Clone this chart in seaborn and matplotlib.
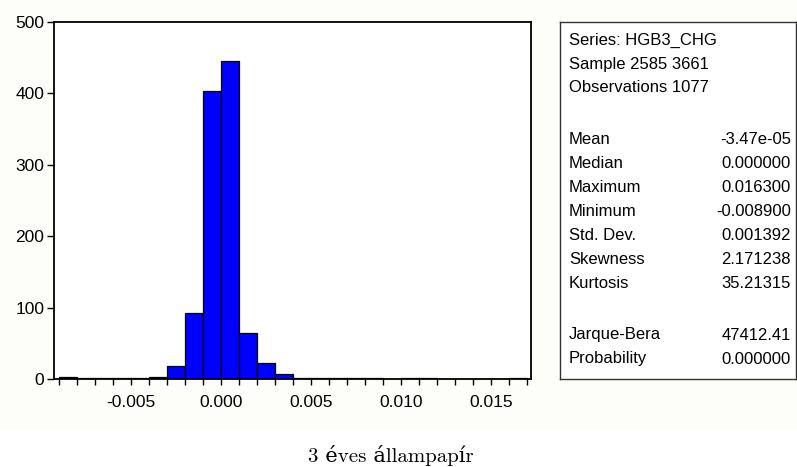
import numpy as np
import pandas as pd
import matplotlib
matplotlib.use("Agg")
import matplotlib.pyplot as plt
from matplotlib.patches import Rectangle
from matplotlib.ticker import FixedLocator
import seaborn as sns

# ---- data ----
bin_left = [-0.009, -0.008, -0.007, -0.006, -0.005, -0.004, -0.003, -0.002, -0.001,
            0.000, 0.001, 0.002, 0.003, 0.004, 0.005, 0.006, 0.007, 0.008, 0.009,
            0.010, 0.011, 0.012, 0.013, 0.014, 0.015, 0.016]
counts = [3, 1, 1, 2, 2, 3, 18, 93, 403,
          446, 65, 23, 7, 2, 1, 1, 1, 2, 0,
          1, 1, 0, 0, 0, 0, 1]
bin_width = 0.001
x_major = [-0.005, 0.000, 0.005, 0.010, 0.015]
x_labels = ["-0.005", "0.000", "0.005", "0.010", "0.015"]
y_ticks = [0, 100, 200, 300, 400, 500]

stat_header = ["Series: HGB3_CHG", "Sample 2585 3661", "Observations 1077"]
stat_names = ["Mean", "Median", "Maximum", "Minimum", "Std. Dev.", "Skewness", "Kurtosis"]
stat_values = ["-3.47e-05", "0.000000", "0.016300", "-0.008900", "0.001392", "2.171238", "35.21315"]
test_names = ["Jarque-Bera", "Probability"]
test_values = ["47412.41", "0.000000"]
caption = "3 éves állampapír"

sns.set_style("white")
plt.rcParams['font.family'] = ['Liberation Sans', 'DejaVu Sans']
plt.rcParams['text.color'] = 'black'
plt.rcParams['xtick.color'] = 'black'
plt.rcParams['ytick.color'] = 'black'
plt.rcParams['axes.labelcolor'] = 'black'

W, H = 797, 467
fig = plt.figure(figsize=(W / 100, H / 100), dpi=100)
fig.patch.set_facecolor("white")
fig.patches.append(Rectangle((0, (H - 430) / H), 1, 430 / H, transform=fig.transFigure,
                             facecolor="#fdfdfa", edgecolor="none", zorder=-10))

def fx(px):
    return px / W

def fy(py):
    return (H - py) / H

ax_l, ax_r, ax_t, ax_b = 54, 531, 22, 379
ax = fig.add_axes([fx(ax_l), fy(ax_b), fx(ax_r - ax_l), fy(ax_t) - fy(ax_b)])
ax.set_facecolor("white")

df = pd.DataFrame({"x": np.array(bin_left) + bin_width / 2, "w": counts})
edges = [round(b, 4) for b in bin_left] + [round(bin_left[-1] + bin_width, 4)]
sns.histplot(data=df, x="x", weights="w", bins=edges, ax=ax,
             color="#0000ff", alpha=1.0, edgecolor="black", linewidth=0.9)

ax.set_xlim(-0.009294, 0.017206)
ax.set_ylim(0, 500)
ax.set_xlabel("")
ax.set_ylabel("")
ax.xaxis.set_major_locator(FixedLocator(x_major))
ax.set_xticklabels(x_labels)
ax.xaxis.set_minor_locator(FixedLocator(edges))
ax.set_yticks(y_ticks)
ax.tick_params(axis="x", which="both", direction="out", length=4.5, width=1, color="black",
               bottom=True, labelsize=12.5, pad=7, labelcolor="black")
ax.tick_params(axis="y", which="both", direction="out", length=5, width=1, color="black",
               left=True, labelsize=12.5, pad=2, labelcolor="black")
for s in ax.spines.values():
    s.set_visible(True)
    s.set_color("black")
    s.set_linewidth(1.3)

# ---- statistics box ----
bx_l, bx_r, bx_t, bx_b = 560, 796, 22, 379
bax = fig.add_axes([fx(bx_l), fy(bx_b), fx(bx_r - bx_l), fy(bx_t) - fy(bx_b)])
bax.set_xticks([])
bax.set_yticks([])
bax.set_facecolor("white")
for s in bax.spines.values():
    s.set_color("#333333")
    s.set_linewidth(1.0)

lx, rx = 569, 791
row = 24
y0 = 40
for i, t in enumerate(stat_header):
    fig.text(fx(lx), fy(y0 + i * row), t, ha="left", va="center", fontsize=12)
y1 = 139
for i, (n, v) in enumerate(zip(stat_names, stat_values)):
    fig.text(fx(lx), fy(y1 + i * row), n, ha="left", va="center", fontsize=12)
    fig.text(fx(rx), fy(y1 + i * row), v, ha="right", va="center", fontsize=12)
y2 = 335
for i, (n, v) in enumerate(zip(test_names, test_values)):
    fig.text(fx(lx), fy(y2 + i * row), n, ha="left", va="center", fontsize=12)
    fig.text(fx(rx), fy(y2 + i * row), v, ha="right", va="center", fontsize=12)

fig.text(fx(391), fy(456), caption, ha="center", va="center", fontsize=15,
         family=["cmr10", "DejaVu Serif"])

fig.savefig("out.png", dpi=100)
